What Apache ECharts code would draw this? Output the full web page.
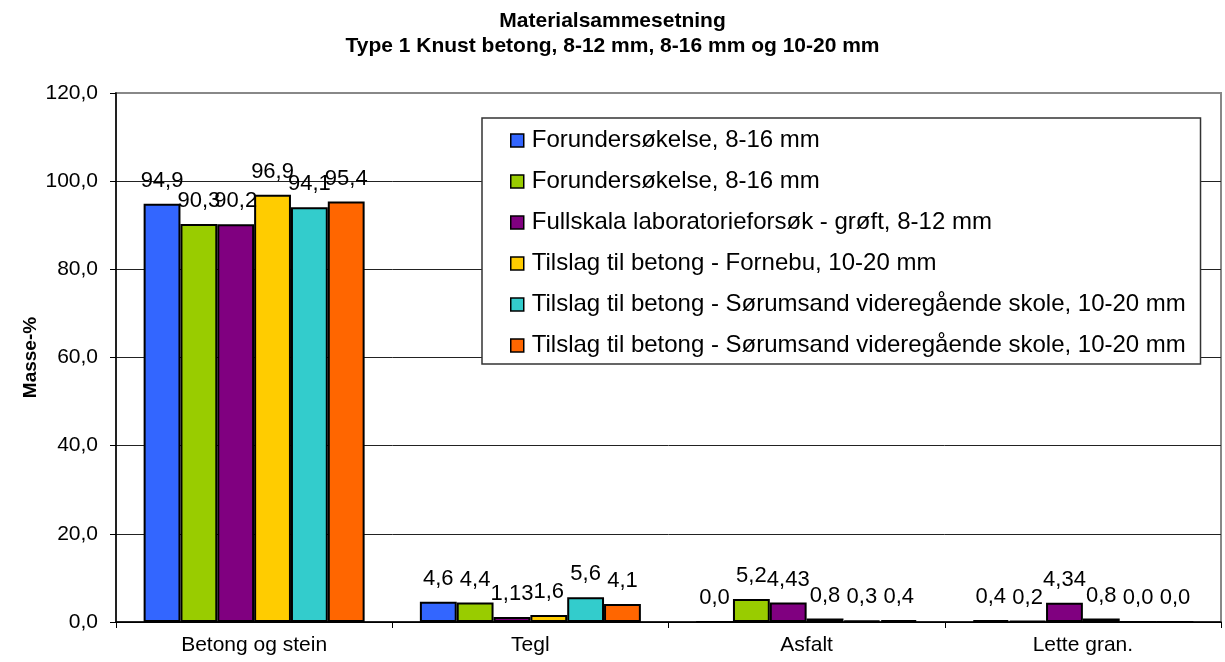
<!DOCTYPE html>
<html>
<head>
<meta charset="utf-8">
<script src="https://cdn.jsdelivr.net/npm/echarts@6/dist/echarts.min.js"></script>
<style>
  html, body { margin: 0; padding: 0; background: #fff; }
  #chart { width: 1225px; height: 662px; }
</style>
</head>
<body>
<div id="chart"></div>
<script>
// Material composition, mass-% per component and sample
const categories = ['Betong og stein', 'Tegl', 'Asfalt', 'Lette gran.'];

const seriesNames = [
  'Forundersøkelse, 8-16 mm',
  'Forundersøkelse, 8-16 mm ',
  'Fullskala laboratorieforsøk - grøft, 8-12 mm',
  'Tilslag til betong - Fornebu, 10-20 mm',
  'Tilslag til betong - Sørumsand videregående skole, 10-20 mm',
  'Tilslag til betong - Sørumsand videregående skole, 10-20 mm '
];

const forundersokelseA = [94.9, 4.6, 0.0, 0.4];
const forundersokelseB = [90.3, 4.4, 5.2, 0.2];
const fullskala = [90.2, 1.13, 4.43, 4.34];
const fornebu = [96.9, 1.6, 0.8, 0.8];
const sorumsandA = [94.1, 5.6, 0.3, 0.0];
const sorumsandB = [95.4, 4.1, 0.4, 0.0];

const seriesValues = [forundersokelseA, forundersokelseB, fullskala, fornebu, sorumsandA, sorumsandB];
const seriesColors = ['#3366FF', '#99CC00', '#800080', '#FFCC00', '#33CCCC', '#FF6600'];

const yTicks = { min: 0, max: 120, interval: 20 };

const FONT = 'Liberation Sans, Arial, sans-serif';

// Norwegian number format: comma decimal, at least one decimal place
function fmt(v) {
  const dec = Math.max(1, ((String(v).split('.')[1]) || '').length);
  return v.toFixed(dec).replace('.', ',');
}

const chart = echarts.init(document.getElementById('chart'), null, { renderer: 'canvas' });

const series = seriesValues.map((vals, i) => ({
  name: seriesNames[i],
  type: 'bar',
  data: vals,
  barGap: '0%',
  barCategoryGap: '20%',
  itemStyle: { color: seriesColors[i], borderColor: '#000', borderWidth: 2 },
  label: {
    show: true,
    position: 'top',
    distance: 12,
    color: '#000',
    fontFamily: FONT,
    fontSize: 22,
    formatter: p => fmt(p.value)
  },
  emphasis: { disabled: true }
}));

chart.setOption({
  backgroundColor: '#fff',
  animation: false,
  title: {
    text: 'Materialsammesetning\nType 1 Knust betong, 8-12 mm, 8-16 mm og 10-20 mm',
    left: 'center',
    top: 4,
    textStyle: { fontFamily: FONT, fontSize: 21, fontWeight: 'bold', color: '#000', lineHeight: 25 }
  },
  legend: {
    orient: 'vertical',
    left: 482,
    top: 118,
    padding: [10, 8, 6, 28],
    itemGap: 16,
    itemWidth: 13,
    itemHeight: 13,
    backgroundColor: '#fff',
    borderColor: '#333',
    borderWidth: 1.5,
    borderRadius: 0,
    icon: 'rect',
    itemStyle: { borderColor: '#000', borderWidth: 1.5 },
    textStyle: { fontFamily: FONT, fontSize: 24, color: '#000', lineHeight: 25, padding: [0, 0, 0, 3] },
    data: seriesNames
  },
  grid: {
    left: 116,
    right: 4,
    top: 93,
    bottom: 40,
    show: true,
    borderColor: '#888',
    borderWidth: 2,
    containLabel: false
  },
  xAxis: {
    type: 'category',
    data: categories,
    axisLine: { show: true, lineStyle: { color: '#000', width: 1.5 } },
    axisTick: { show: true, length: 6, lineStyle: { color: '#000' } },
    axisLabel: { fontFamily: FONT, fontSize: 21, color: '#000', margin: 13 }
  },
  yAxis: {
    type: 'value',
    min: yTicks.min,
    max: yTicks.max,
    interval: yTicks.interval,
    name: 'Masse-%',
    nameLocation: 'middle',
    nameGap: 76,
    nameRotate: 90,
    nameMoveOverlap: false,
    nameTextStyle: { fontFamily: FONT, fontSize: 19, fontWeight: 'bold', color: '#000' },
    axisLine: { show: true, lineStyle: { color: '#000', width: 1.5 } },
    axisTick: { show: true, length: 6, lineStyle: { color: '#000' } },
    axisLabel: { fontFamily: FONT, fontSize: 21, color: '#000', margin: 18, formatter: v => fmt(v) },
    splitLine: { show: true, lineStyle: { color: ['#000', '#222', '#222', '#222', '#222', '#222', '#888'], width: 1 } }
  },
  series: series
});
</script>
</body>
</html>
